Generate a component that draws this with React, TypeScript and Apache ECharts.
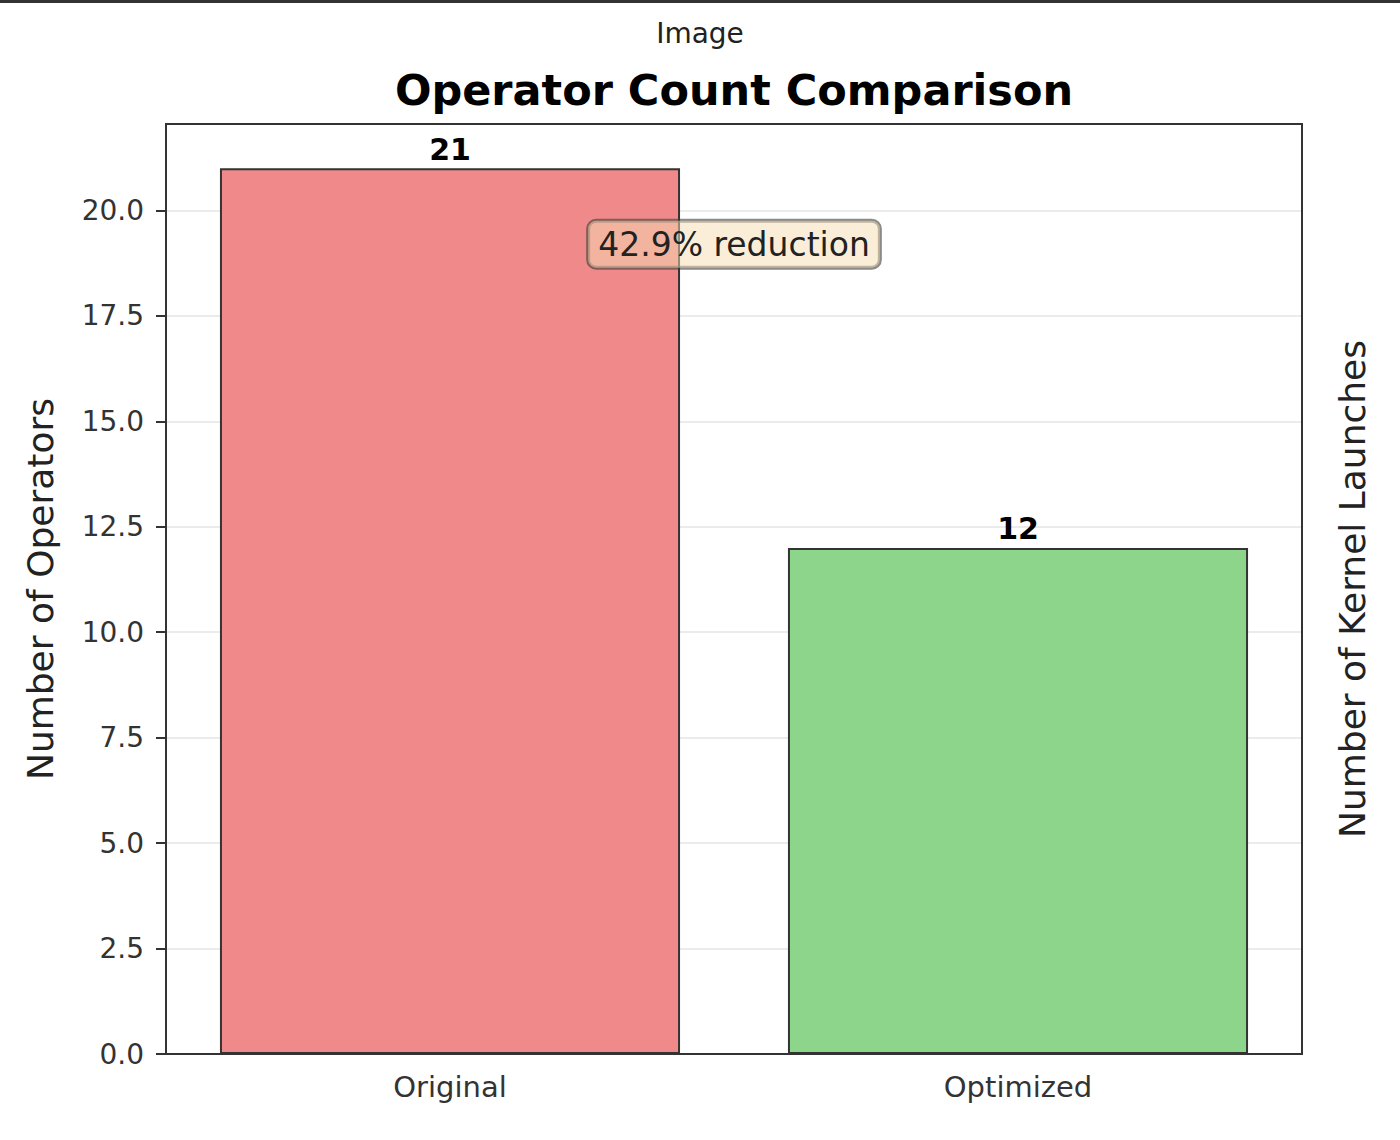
import { useEffect, useRef } from 'react';
import * as echarts from 'echarts';

const categories = ['Original', 'Optimized'];
const operatorCounts = [21, 12];
const barColors = ['#f08a8a', '#8dd58a'];
const yTicks = [0, 2.5, 5, 7.5, 10, 12.5, 15, 17.5, 20];
const yMax = 22.05;
const reductionText = '42.9% reduction';
// annotation sits halfway between the two bars, at this y value
const reductionY = 19.2;

const FONT = '"DejaVu Sans", sans-serif';

const topRule = {
  type: 'rect',
  left: 0,
  top: 0,
  shape: { width: 1400, height: 3 },
  style: { fill: '#333' },
};

export default function App() {
  const chartRef = useRef<HTMLDivElement>(null);

  useEffect(() => {
    if (!chartRef.current) return;
    const chart = echarts.init(chartRef.current, undefined, { renderer: 'svg' });

    const option: echarts.EChartsOption = {
      animation: false,
      backgroundColor: '#ffffff',
      textStyle: { fontFamily: FONT },
      title: [
        {
          text: 'Image',
          left: 700,
          top: 19,
          textAlign: 'center',
          padding: 0,
          textStyle: { fontFamily: FONT, fontSize: 28, fontWeight: 'normal', color: '#222' },
        },
        {
          text: 'Operator Count Comparison',
          left: 734,
          top: 68,
          textAlign: 'center',
          padding: 0,
          textStyle: { fontFamily: FONT, fontSize: 43, fontWeight: 'bold', color: '#000' },
        },
      ],
      grid: {
        left: 166,
        right: 98,
        top: 124,
        bottom: 86,
        show: true,
        borderColor: '#333',
        borderWidth: 2,
        backgroundColor: 'transparent',
      },
      xAxis: [
        {
          type: 'category',
          data: categories,
          boundaryGap: true,
          axisLine: { onZero: false, lineStyle: { color: '#333', width: 2 } },
          axisTick: { alignWithLabel: true, length: 10, lineStyle: { color: '#333', width: 2 } },
          axisLabel: { fontFamily: FONT, fontSize: 29, color: '#333', margin: 18 },
          z: 10,
        },
        {
          // top frame line
          type: 'category',
          position: 'top',
          data: categories,
          axisLine: { show: true, onZero: false, lineStyle: { color: '#333', width: 2 } },
          axisTick: { show: false },
          axisLabel: { show: false },
          splitLine: { show: false },
          z: 10,
        },
      ],
      yAxis: [
        {
          type: 'value',
          min: 0,
          max: yMax,
          interval: 2.5,
          name: 'Number of Operators',
          nameLocation: 'middle',
          nameGap: 108,
          nameRotate: 90,
          nameTextStyle: { fontFamily: FONT, fontSize: 36, color: '#222' },
          axisLine: { show: true, onZero: false, lineStyle: { color: '#333', width: 2 } },
          axisTick: { show: true, length: 10, lineStyle: { color: '#333', width: 2 } },
          axisLabel: {
            fontFamily: FONT,
            fontSize: 28,
            color: '#333',
            margin: 22,
            showMaxLabel: false,
            formatter: (v: number) => (yTicks.includes(v) ? v.toFixed(1) : ''),
          },
          splitLine: { show: true, lineStyle: { color: '#ebebeb', width: 2 } },
        },
        {
          type: 'value',
          position: 'right',
          min: 0,
          max: 1,
          name: 'Number of Kernel Launches',
          nameLocation: 'middle',
          nameGap: 32,
          nameRotate: 90,
          nameTextStyle: { fontFamily: FONT, fontSize: 36, color: '#222' },
          axisLine: { show: true, onZero: false, lineStyle: { color: '#333', width: 2 } },
          axisTick: { show: false },
          axisLabel: { show: false },
          splitLine: { show: false },
        },
      ],
      series: [
        {
          type: 'bar',
          xAxisIndex: 0,
          yAxisIndex: 0,
          barWidth: '81%',
          data: operatorCounts.map((v, i) => ({
            value: v,
            itemStyle: { color: barColors[i], borderColor: '#333', borderWidth: 2 },
          })),
          label: {
            show: true,
            position: 'top',
            distance: 4,
            fontFamily: FONT,
            fontSize: 30,
            fontWeight: 'bold',
            color: '#000',
          },
        },
      ],
      graphic: [topRule],
    };

    chart.setOption(option);

    const p0 = chart.convertToPixel({ gridIndex: 0 }, [categories[0], reductionY]) as number[];
    const p1 = chart.convertToPixel({ gridIndex: 0 }, [categories[1], reductionY]) as number[];
    const ax = (p0[0] + p1[0]) / 2;
    const ay = p0[1];

    chart.setOption({
      graphic: [
        topRule,
        {
          type: 'text',
          x: ax,
          y: ay,
          z: 100,
          style: {
            text: reductionText,
            fontFamily: FONT,
            fontSize: 33,
            fill: '#222',
            align: 'center',
            verticalAlign: 'middle',
            backgroundColor: 'rgba(245,222,179,0.5)',
            borderColor: 'rgba(60,60,60,0.6)',
            borderWidth: 2,
            borderRadius: 8,
            padding: [7, 10, 7, 10],
          },
        },
      ],
    });

    return () => chart.dispose();
  }, []);

  return (
    <div
      ref={chartRef}
      style={{ position: 'absolute', left: 0, top: 0, width: 1400, height: 1140 }}
    />
  );
}
